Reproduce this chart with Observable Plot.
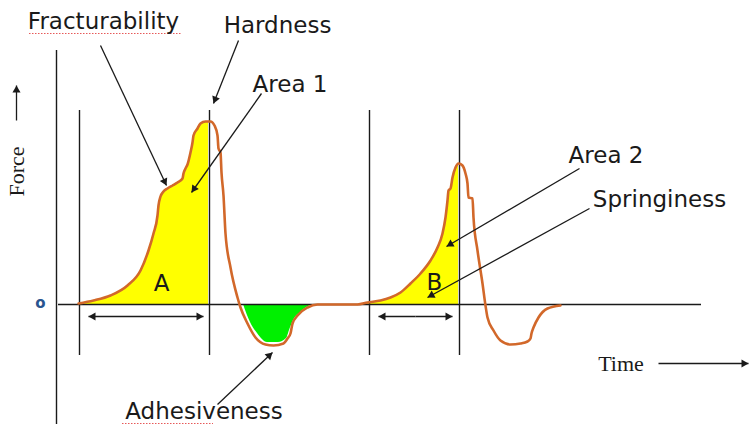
<!DOCTYPE html>
<html>
<head>
<meta charset="utf-8">
<script src="https://cdn.jsdelivr.net/npm/d3@7"></script>
<script src="https://cdn.jsdelivr.net/npm/@observablehq/plot@0.6"></script>
<style>
  body { margin: 0; background: #fff; }
  #chart svg { display: block; }
</style>
</head>
<body>
<div id="chart"></div>
<script>
// ---- Data (time in arbitrary units, force in arbitrary units; 0 = baseline) ----
const curveTime = [
  7.8, 9.3, 11.0, 12.7, 14.0, 14.8, 15.3, 15.7, 15.8, 16.0, 16.3, 16.7, 17.2, 17.7, 18.2, 18.3, 18.5, 18.7,
  19.0, 19.2, 19.3, 19.7, 20.0, 20.5, 20.8, 21.0, 21.4, 21.7, 21.8, 22.0, 22.1, 22.3, 22.5, 23.0, 23.7,
  24.0, 24.7, 25.5, 26.5, 27.3, 28.3, 28.7, 29.0, 29.2, 29.7, 30.7, 31.7, 35.7,
  36.7, 38.0, 39.0, 40.0, 41.0, 42.0, 43.0, 43.7, 44.2, 44.5, 44.7, 44.8, 45.0, 45.2, 45.5, 45.8,
  46.2, 46.5, 46.7, 46.8, 47.2, 47.3, 47.7, 48.2, 48.5, 48.7, 49.3, 50.0, 51.0, 52.0, 52.7, 53.0,
  53.1, 53.3, 53.8, 54.7, 56.0
];
const curveForce = [
  1, 4, 9, 19, 34, 54, 71, 89, 99, 108, 113, 116, 119, 122, 126, 131, 136, 140,
  152, 162, 169, 176, 181, 183, 183, 183, 179, 169, 156, 152, 132, 109, 71, 37, 7,
  -3, -19, -33, -40, -41, -39, -34, -29, -19, -11, -3, 0, 0,
  2, 4, 7, 12, 21, 31, 44, 57, 71, 87, 104, 114, 116, 127, 137, 141,
  139, 131, 121, 107, 106, 87, 54, 21, -1, -13, -26, -36, -40, -39, -37, -34,
  -29, -23, -13, -4, -1
];

// Adhesiveness (green) area lower boundary
const adhesTime  = [24.3, 25.0, 25.7, 26.7, 27.8, 28.6, 28.9, 29.3, 30.0, 31.0, 31.3];
const adhesForce = [0, -18, -29, -38, -38, -34, -26, -16, -8, -1, 0];

// Area 1 and Area 2 (yellow) time ranges
const area1Range = [7.8, 20.8];
const area2Range = [36.7, 45.8];

// Reference lines
const markerTimes = [7.9, 20.9, 36.9, 45.9];
const markerForceRange = [-51, 194];
const axisTime = 5.6;
const axisForceRange = [-120, 254];
const baselineTimeRange = [5.8, 70.1];

// Annotation pointers
const pointerFrom = [[10.0, 259], [23.8, 264], [26.1, 211], [57.9, 136], [58.9, 96], [21.7, -100]];
const pointerTo   = [[16.6, 119], [21.3, 201], [19.1, 112], [44.6, 58], [42.7, 7], [27.2, -48]];

// Double-headed span arrows
const spanForce = -12;
const spans = [[8.8, 20.3], [37.8, 45.2]];

// Axis direction arrows
const axisArrowFrom = [[1.6, 184], [65.8, -59]];
const axisArrowTo   = [[1.6, 219], [74.8, -59]];

// Labels
const labelText = ["Fracturability", "Hardness", "Area 1", "Area 2", "Springiness", "Adhesiveness", "A", "B"];
const labelTime = [10.3, 27.7, 28.95, 60.55, 65.9, 20.35, 16.1, 43.4];
const labelForce = [283, 279, 220, 149, 105, -107.5, 21, 22];

const serifText = ["Force", "Time"];
const serifTime = [1.6, 62.05];
const serifForce = [133, -59];
const serifRotate = [-90, 0];

const originText = ["o"];
const originTime = [4.0];
const originForce = [1];

const squiggles = [[2.9, 18.2, 271], [12.2, 21.3, -119]];

// ---- Build tables ----
const curve = curveTime.map((t, i) => ({t, f: curveForce[i]}));
const area1 = curve.filter(d => d.t >= area1Range[0] && d.t <= area1Range[1]);
const area2 = curve.filter(d => d.t >= area2Range[0] && d.t <= area2Range[1]);
const adhes = adhesTime.map((t, i) => ({t, f: adhesForce[i]}));

const segs = [];
pointerFrom.forEach((p, i) => segs.push({t1: p[0], f1: p[1], t2: pointerTo[i][0], f2: pointerTo[i][1]}));
spans.forEach(s => {
  const mid = (s[0] + s[1]) / 2;
  segs.push({t1: mid, f1: spanForce, t2: s[0], f2: spanForce});
  segs.push({t1: mid, f1: spanForce, t2: s[1], f2: spanForce});
});
axisArrowFrom.forEach((p, i) => segs.push({t1: p[0], f1: p[1], t2: axisArrowTo[i][0], f2: axisArrowTo[i][1]}));

const PX_PER_T = 10, PX_PER_F = 1, headR = 3;
const tipDist = 2 * Math.sqrt(Math.PI * headR * headR / (3 * Math.sqrt(3)));
const heads = segs.map(s => {
  const sx = (s.t2 - s.t1) * PX_PER_T, sy = -(s.f2 - s.f1) * PX_PER_F;
  const L = Math.hypot(sx, sy), ux = sx / L, uy = sy / L;
  return {
    t: s.t2 - ux * tipDist / PX_PER_T,
    f: s.f2 + uy * tipDist / PX_PER_F,
    rot: Math.atan2(ux, -uy) * 180 / Math.PI
  };
});

const labels = labelText.map((text, i) => ({text, t: labelTime[i], f: labelForce[i]}));
const serifs = serifText.map((text, i) => ({text, t: serifTime[i], f: serifForce[i], r: serifRotate[i]}));
const origin = originText.map((text, i) => ({text, t: originTime[i], f: originForce[i]}));

const ink = "#1a1a1a";
const chart = Plot.plot({
  width: 750,
  height: 424,
  margin: 0,
  x: {domain: [0, 75], range: [0, 750], axis: null},
  y: {domain: [-120, 304], range: [424, 0], axis: null},
  style: {background: "#fff"},
  marks: [
    Plot.areaY(area1, {x: "t", y1: 0, y2: "f", fill: "#ffff00", curve: "monotone-x"}),
    Plot.areaY(area2, {x: "t", y1: 0, y2: "f", fill: "#ffff00", curve: "monotone-x"}),
    Plot.areaY(adhes, {x: "t", y1: 0, y2: "f", fill: "#00f000", curve: "monotone-x"}),
    Plot.ruleX([axisTime], {x: d => d, y1: axisForceRange[0], y2: axisForceRange[1], stroke: ink, strokeWidth: 1.4}),
    Plot.ruleX(markerTimes, {x: d => d, y1: markerForceRange[0], y2: markerForceRange[1], stroke: ink, strokeWidth: 1.4}),
    Plot.ruleY([0], {y: d => d, x1: baselineTimeRange[0], x2: baselineTimeRange[1], stroke: ink, strokeWidth: 1.4}),
    Plot.line(curve, {x: "t", y: "f", stroke: "#d2682a", strokeWidth: 2.6, curve: "monotone-x"}),
    Plot.link(segs, {x1: "t1", y1: "f1", x2: "t2", y2: "f2", stroke: ink, strokeWidth: 1.3}),
    Plot.dot(heads, {x: "t", y: "f", rotate: "rot", symbol: "triangle", r: headR, fill: ink, stroke: "none"}),
    Plot.ruleY(squiggles, {y: d => d[2], x1: d => d[0], x2: d => d[1], stroke: "#e03030", strokeWidth: 1.2, strokeDasharray: "1.5,1.5", strokeOpacity: 0.8}),
    Plot.text(labels, {x: "t", y: "f", text: "text", fontFamily: "DejaVu Sans", fontSize: 23, fill: ink, textAnchor: "middle", lineAnchor: "middle"}),
    Plot.text(serifs, {x: "t", y: "f", text: "text", rotate: "r", fontFamily: "Liberation Serif", fontSize: 22, fill: ink, textAnchor: "middle", lineAnchor: "middle"}),
    Plot.text(origin, {x: "t", y: "f", text: "text", fontFamily: "DejaVu Sans", fontWeight: "bold", fontSize: 15, fill: "#2a5590", lineAnchor: "middle"})
  ]
});
document.getElementById("chart").appendChild(chart);
</script>
</body>
</html>
